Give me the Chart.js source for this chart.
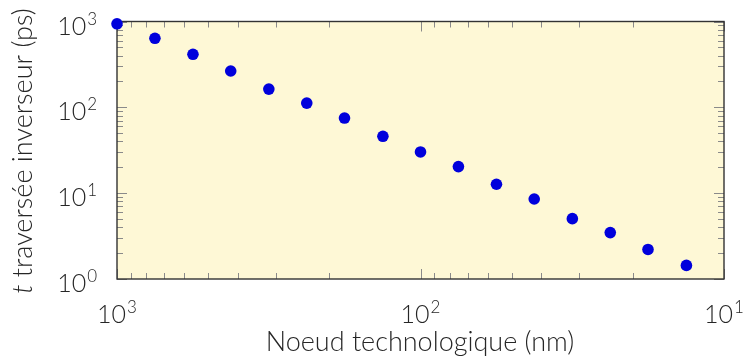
<!DOCTYPE html>
<html>
<head>
<meta charset="utf-8">
<script src="https://cdn.jsdelivr.net/npm/chart.js@4/dist/chart.umd.min.js"></script>
<style>
  html, body { margin: 0; padding: 0; background: #fff; }
</style>
</head>
<body>
<canvas id="delayChart" width="743" height="356"></canvas>
<script>
// technology node (nm) and inverter crossing time (ps)
const nodes = [1000, 750, 562, 422, 316, 237, 178, 133, 100, 75, 56.2, 42.2, 31.6, 23.7, 17.8, 13.3];
const delays = [940, 637, 415, 265, 163, 112, 75, 46, 30.2, 20.4, 12.7, 8.55, 5.05, 3.47, 2.21, 1.44];
const xTicks = [1000, 100, 10];
const yTicks = [1, 10, 100, 1000];
const xTitle = "Noeud technologique (nm)";
const yTitleVar = "t";
const yTitleRest = " traversée inverseur (ps)";

const FONT = "Lato";
const TEXT = "#262626";

function minorValues(min, max) {
  const out = [];
  for (let p = Math.floor(Math.log10(min)); p < Math.log10(max); p++) {
    for (let m = 2; m <= 9; m++) out.push(m * Math.pow(10, p));
  }
  return out;
}

function drawPow(ctx, v, x, y, align) {
  const e = String(Math.round(Math.log10(v)));
  ctx.font = "300 25px " + FONT;
  const wb = ctx.measureText("10").width;
  ctx.font = "300 17px " + FONT;
  const we = ctx.measureText(e).width;
  const w = wb + we + 1;
  const x0 = align === "right" ? x - w : x - w / 2;
  ctx.textAlign = "left";
  ctx.textBaseline = "alphabetic";
  ctx.font = "300 25px " + FONT;
  ctx.fillText("10", x0, y);
  ctx.font = "300 17px " + FONT;
  ctx.fillText(e, x0 + wb + 1, y - 10);
}

const axesPlugin = {
  id: "pgfAxes",
  beforeDatasetsDraw(chart) {
    const { ctx, chartArea: a, scales } = chart;
    const xs = scales.x, ys = scales.y;
    ctx.save();
    ctx.fillStyle = "#fef8d6";
    ctx.fillRect(a.left, a.top, a.right - a.left, a.bottom - a.top);

    // inward ticks on all four sides
    ctx.strokeStyle = "#8a8a8a";
    ctx.lineWidth = 1;
    const tick = (x1, y1, x2, y2) => {
      ctx.beginPath(); ctx.moveTo(x1, y1); ctx.lineTo(x2, y2); ctx.stroke();
    };
    minorValues(10, 1000).forEach(v => {
      const px = Math.round(xs.getPixelForValue(v)) + 0.5;
      tick(px, a.bottom, px, a.bottom - 6);
      tick(px, a.top, px, a.top + 6);
    });
    xTicks.forEach(v => {
      const px = Math.round(xs.getPixelForValue(v)) + 0.5;
      tick(px, a.bottom, px, a.bottom - 10);
      tick(px, a.top, px, a.top + 10);
    });
    minorValues(1, 1000).forEach(v => {
      const py = Math.round(ys.getPixelForValue(v)) + 0.5;
      tick(a.left, py, a.left + 6, py);
      tick(a.right, py, a.right - 6, py);
    });
    yTicks.forEach(v => {
      const py = Math.round(ys.getPixelForValue(v)) + 0.5;
      tick(a.left, py, a.left + 10, py);
      tick(a.right, py, a.right - 10, py);
    });

    ctx.strokeStyle = "#333";
    ctx.lineWidth = 1.4;
    ctx.strokeRect(a.left, a.top, a.right - a.left, a.bottom - a.top);

    // tick labels
    ctx.fillStyle = TEXT;
    xTicks.forEach(v => drawPow(ctx, v, xs.getPixelForValue(v), a.bottom + 44, "center"));
    yTicks.forEach(v => drawPow(ctx, v, a.left - 20, ys.getPixelForValue(v) + 13, "right"));

    // axis titles
    ctx.font = "300 27px " + FONT;
    ctx.textAlign = "center";
    ctx.textBaseline = "alphabetic";
    ctx.fillText(xTitle, 420, 351);

    ctx.translate(32, 151);
    ctx.rotate(-Math.PI / 2);
    ctx.font = "italic 300 27px " + FONT;
    const wv = ctx.measureText(yTitleVar).width;
    ctx.font = "300 27px " + FONT;
    const wr = ctx.measureText(yTitleRest).width;
    const start = -(wv + wr) / 2;
    ctx.textAlign = "left";
    ctx.font = "italic 300 27px " + FONT;
    ctx.fillText(yTitleVar, start, 0);
    ctx.font = "300 27px " + FONT;
    ctx.fillText(yTitleRest, start + wv, 0);
    ctx.restore();
  }
};

const ctx = document.getElementById("delayChart").getContext("2d");
new Chart(ctx, {
  type: "scatter",
  data: {
    datasets: [{
      label: "t",
      data: nodes.map((n, i) => ({ x: n, y: delays[i] })),
      backgroundColor: "#0000dc",
      borderColor: "#0000dc",
      borderWidth: 0,
      pointRadius: 5.8,
      clip: false
    }]
  },
  options: {
    responsive: false,
    animation: false,
    devicePixelRatio: 1,
    layout: { padding: { left: 117, top: 21.5, right: 19, bottom: 77 } },
    plugins: { legend: { display: false }, tooltip: { enabled: false } },
    scales: {
      x: { type: "logarithmic", min: 10, max: 1000, reverse: true, display: false },
      y: { type: "logarithmic", min: 1, max: 1000, display: false }
    }
  },
  plugins: [axesPlugin]
});
</script>
</body>
</html>
